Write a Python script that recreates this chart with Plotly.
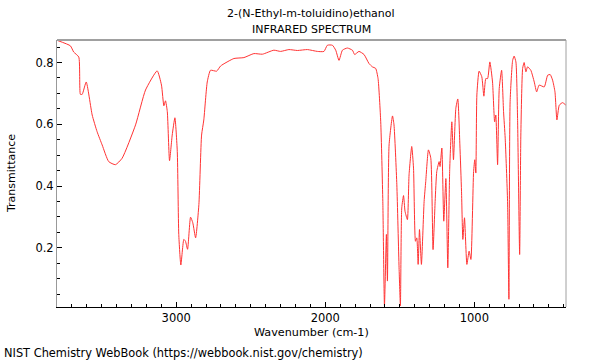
import plotly.graph_objects as go

wavenumber = [3800, 3710, 3688, 3654, 3643, 3631, 3604, 3564, 3531, 3497, 3453, 3408, 3363, 3273, 3206, 3128,
              3099, 3083, 3072, 3060, 3045, 3027, 3009, 2993, 2983, 2969, 2949, 2938, 2924, 2904, 2889, 2870,
              2848, 2830, 2815, 2792, 2770, 2729, 2702, 2613, 2546, 2479, 2422, 2345, 2300, 2244, 2187, 2120,
              2053, 2009, 1986, 1952, 1930, 1908, 1885, 1852, 1818, 1803, 1774, 1740, 1707, 1684, 1662, 1646,
              1628, 1614, 1603, 1590, 1583, 1572, 1549, 1539, 1520, 1505, 1496, 1487, 1475, 1465, 1449, 1438,
              1420, 1408, 1395, 1386, 1377, 1368, 1355, 1337, 1326, 1308, 1292, 1277, 1263, 1252, 1236, 1230,
              1218, 1205, 1191, 1178, 1165, 1151, 1140, 1124, 1111, 1097, 1086, 1077, 1066, 1050, 1035, 1023,
              1005, 997, 990, 983, 968, 950, 936, 923, 911, 896, 878, 864, 856, 844, 833, 817,
              804, 793, 777, 768, 760, 743, 733, 721, 710, 696, 688, 676, 666, 654, 643, 621,
              598, 582, 565, 531, 508, 491, 475, 459, 446, 430, 408, 386]
transmittance = [0.872, 0.854, 0.834, 0.818, 0.697, 0.697, 0.737, 0.630, 0.576, 0.533, 0.479, 0.469, 0.490, 0.598, 0.711, 0.773,
                 0.727, 0.660, 0.676, 0.641, 0.482, 0.565, 0.621, 0.512, 0.243, 0.144, 0.227, 0.221, 0.195, 0.299, 0.281, 0.232,
                 0.340, 0.565, 0.614, 0.737, 0.775, 0.772, 0.789, 0.813, 0.816, 0.829, 0.827, 0.840, 0.836, 0.842, 0.839, 0.842,
                 0.836, 0.836, 0.856, 0.856, 0.840, 0.807, 0.840, 0.847, 0.840, 0.826, 0.836, 0.826, 0.797, 0.786, 0.781, 0.748,
                 0.608, 0.350, 0.012, 0.243, 0.092, 0.533, 0.627, 0.598, 0.404, 0.135, 0.012, 0.329, 0.369, 0.318, 0.291, 0.436,
                 0.528, 0.458, 0.221, 0.232, 0.146, 0.259, 0.146, 0.350, 0.415, 0.517, 0.490, 0.194, 0.350, 0.447, 0.479, 0.463,
                 0.523, 0.286, 0.424, 0.135, 0.458, 0.608, 0.485, 0.652, 0.682, 0.533, 0.383, 0.227, 0.297, 0.146, 0.189, 0.162,
                 0.447, 0.485, 0.442, 0.695, 0.772, 0.754, 0.691, 0.748, 0.748, 0.802, 0.737, 0.608, 0.630, 0.469, 0.716, 0.775,
                 0.641, 0.555, 0.350, 0.033, 0.673, 0.807, 0.821, 0.802, 0.619, 0.178, 0.565, 0.781, 0.800, 0.770, 0.786, 0.775,
                 0.737, 0.705, 0.727, 0.721, 0.759, 0.761, 0.743, 0.705, 0.614, 0.662, 0.670, 0.662]

x_tick_vals = [3000, 2000, 1000]
x_tick_text = ["3000", "2000", "1000"]
y_tick_vals = [0.2, 0.4, 0.6, 0.8]
y_tick_text = ["0.2", "0.4", "0.6", "0.8"]

title_line1 = "2-(N-Ethyl-m-toluidino)ethanol"
title_line2 = "INFRARED SPECTRUM"
x_title = "Wavenumber (cm-1)"
y_title = "Transmittance"
footer = "NIST Chemistry WebBook (https://webbook.nist.gov/chemistry)"

FONT = "DejaVu Sans"
W, H = 600, 360
ML, MR, MT, MB = 57, 34, 40, 53

fig = go.Figure()
fig.add_trace(go.Scatter(x=wavenumber, y=transmittance, mode="lines",
                         line=dict(color="#ff3333", width=1, shape="spline", smoothing=0.5),
                         hoverinfo="skip", showlegend=False))

fig.update_layout(
    width=W, height=H,
    margin=dict(l=ML, r=MR, t=MT, b=MB, autoexpand=False),
    paper_bgcolor="white", plot_bgcolor="white",
    font=dict(family=FONT, size=12, color="black"),
    xaxis=dict(range=[3800, 385], tickvals=x_tick_vals, ticktext=x_tick_text,
               ticks="inside", ticklen=5, tickcolor="black", showgrid=False, zeroline=False,
               showline=True, linecolor="black", linewidth=1,
               minor=dict(dtick=100, ticks="inside", ticklen=3, tickcolor="black", showgrid=False),
               tickfont=dict(family=FONT, size=11.5)),
    yaxis=dict(range=[0.008, 0.873], tickvals=y_tick_vals, ticktext=y_tick_text,
               ticks="inside", ticklen=5, tickcolor="black", showgrid=False, zeroline=False,
               showline=True, linecolor="#999999", linewidth=1,
               minor=dict(dtick=0.05, tick0=0, ticks="inside", ticklen=3, tickcolor="black", showgrid=False),
               tickfont=dict(family=FONT, size=11.5)),
    shapes=[
        dict(type="line", xref="paper", yref="paper", x0=0, x1=1, y0=1, y1=1,
             line=dict(color="#a0a0a0", width=2)),
        dict(type="line", xref="paper", yref="paper", x0=1, x1=1, y0=0, y1=1,
             line=dict(color="#a0a0a0", width=1)),
    ],
)

plot_w = W - ML - MR
plot_h = H - MT - MB
def px(xp):
    return (xp - ML) / plot_w
def py(yp):
    return (H - MB - yp) / plot_h

anns = [
    dict(text=title_line1, x=px(311), y=py(14), xanchor="center", yanchor="middle", size=11),
    dict(text=title_line2, x=px(311), y=py(30), xanchor="center", yanchor="middle", size=11),
    dict(text=x_title, x=px(311), y=py(332), xanchor="center", yanchor="middle", size=11.2),
    dict(text=y_title, x=px(11), y=py(174), xanchor="center", yanchor="middle", textangle=-90, size=11),
    dict(text=footer, x=px(2), y=py(353), xanchor="left", yanchor="middle", size=11.4),
]
for a in anns:
    size = a.pop("size")
    fig.add_annotation(xref="paper", yref="paper", showarrow=False,
                       font=dict(family=FONT, size=size, color="black"), **a)

fig.write_html("out.html", config={"displayModeBar": False},
               post_script="document.body.style.margin='0';document.body.style.padding='0';")
